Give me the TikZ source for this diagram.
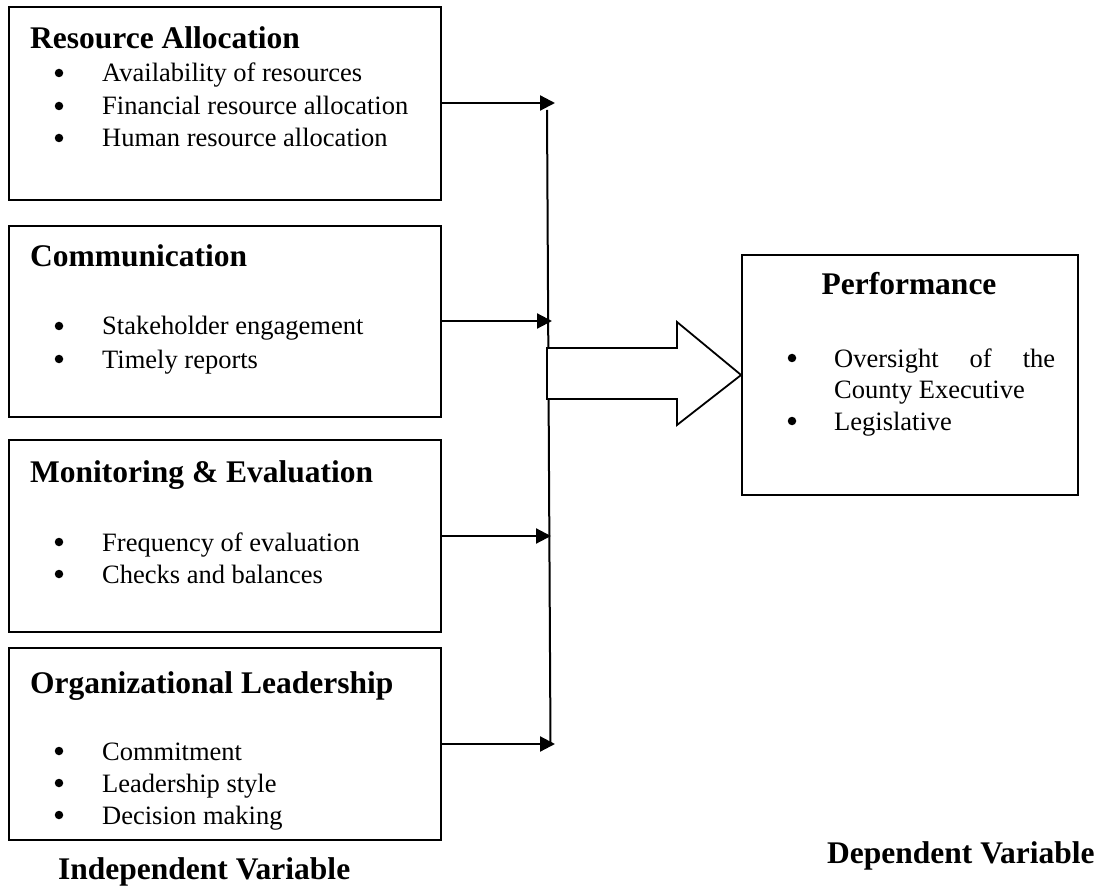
\documentclass[tikz,border=0pt]{standalone}
\usepackage{fontspec}
\setmainfont{Liberation Serif}
\usetikzlibrary{arrows.meta}
\begin{document}
\begin{tikzpicture}[x=1pt,y=-1pt,
  box/.style={draw, line width=1.8pt, inner sep=0pt},
  ttl/.style={font=\bfseries\fontsize{31.5}{36}\selectfont, anchor=base west, inner sep=0pt},
  itm/.style={font=\fontsize{26.5}{32}\selectfont, anchor=base west, inner sep=0pt},
  bul/.style={circle, fill, inner sep=0pt, minimum size=8.5pt},
  arr/.style={-{Triangle[length=15pt,width=15pt]}, line width=2.2pt},
  blk/.style={draw, line width=1.8pt, line join=miter}]
\useasboundingbox (0,0) rectangle (1106,893);
% boxes
\node[box, minimum width=432pt, minimum height=193pt] (b1) at (225,103.5) {};
\node[box, minimum width=432pt, minimum height=191pt] (b2) at (225,321.5) {};
\node[box, minimum width=432pt, minimum height=192pt] (b3) at (225,536) {};
\node[box, minimum width=432pt, minimum height=192pt] (b4) at (225,744) {};
\node[box, minimum width=336pt, minimum height=240pt] (perf) at (910,375) {};
% box 1
\node[ttl] (t1) at (30,49) {Resource Allocation};
\node[bul] (u11) at (59,73) {};
\node[itm] (i11) at (102,82) {Availability of resources};
\node[bul] (u12) at (59,106) {};
\node[itm] (i12) at (102,115) {Financial resource allocation};
\node[bul] (u13) at (59,138) {};
\node[itm] (i13) at (102,147) {Human resource allocation};
% box 2
\node[ttl] (t2) at (30,267) {Communication};
\node[bul] (u21) at (59,326) {};
\node[itm] (i21) at (102,335) {Stakeholder engagement};
\node[bul] (u22) at (59,359) {};
\node[itm] (i22) at (102,368) {Timely reports};
% box 3
\node[ttl] (t3) at (30,482) {Monitoring \& Evaluation};
\node[bul] (u31) at (59,542) {};
\node[itm] (i31) at (102,551) {Frequency of evaluation};
\node[bul] (u32) at (59,574) {};
\node[itm] (i32) at (102,583) {Checks and balances};
% box 4
\node[ttl] (t4) at (30,693) {Organizational Leadership};
\node[bul] (u41) at (59,751) {};
\node[itm] (i41) at (102,760) {Commitment};
\node[bul] (u42) at (59,783) {};
\node[itm] (i42) at (102,792) {Leadership style};
\node[bul] (u43) at (59,815) {};
\node[itm] (i43) at (102,824) {Decision making};
% performance box
\node[ttl, anchor=base] (tp) at (909,295) {Performance};
\node[bul] (up1) at (792,358) {};
\node[itm] (ip1) at (834,367) {\hbox to 221pt{Oversight\hfill of\hfill the}};
\node[itm] (ip2) at (834,398) {County Executive};
\node[bul] (up3) at (792,421) {};
\node[itm] (ip3) at (834,430) {Legislative};
% captions
\node[ttl] (ind) at (58,879) {Independent Variable};
\node[ttl] (dep) at (827,863) {Dependent Variable};
% connectors
\coordinate (a1) at (555,103);
\coordinate (a2) at (552,321);
\coordinate (a3) at (551,536);
\coordinate (a4) at (555,744);
\coordinate (vtop) at (547,110);
\coordinate (vbot) at (550.5,744);
\draw[arr] (b1.east |- a1) -- (a1);
\draw[arr] (b2.east |- a2) -- (a2);
\draw[arr] (b3.east |- a3) -- (a3);
\draw[arr] (b4.east |- a4) -- (a4);
\draw[line width=2pt] (vtop) -- (vbot);
% block arrow
\draw[blk, fill=white] (547,348) -- (677,348) -- (677,322) -- (perf.west) -- (677,425) -- (677,399) -- (547,399) -- cycle;
\end{tikzpicture}
\end{document}
